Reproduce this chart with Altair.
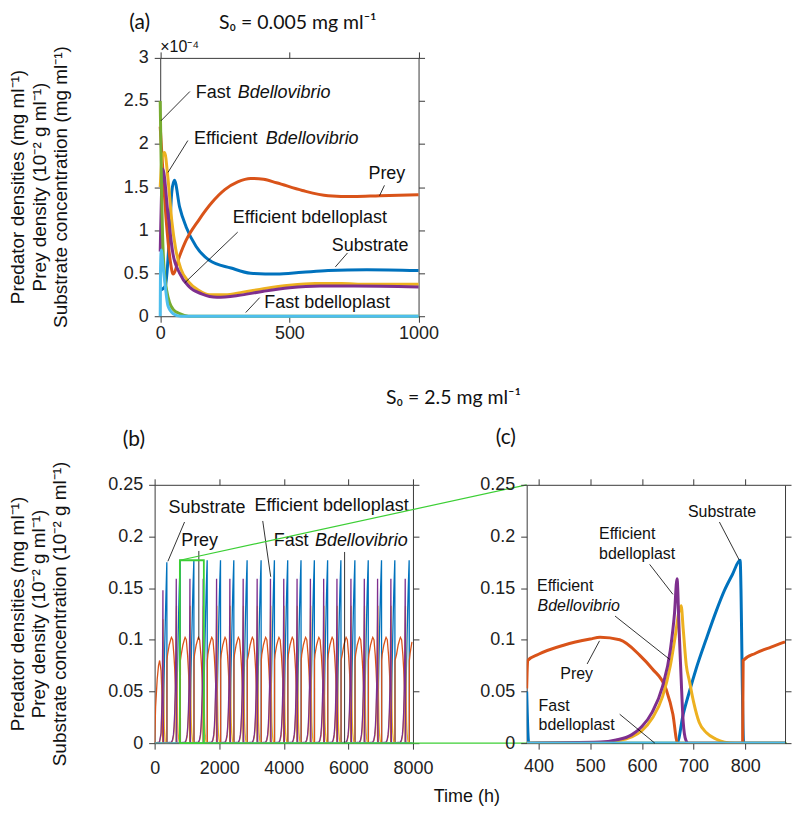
import altair as alt
import pandas as pd

# ---------------- layout ----------------
W = 259
H = 259
GAP = 114      # gap between plot areas of (b) and (c)
VGAP = 169     # gap between plot area of (a) and those of (b), (c)
SHIFT_A = 5.6  # panel (a) sits a little right of panel (b)
FONT = "Liberation Sans"
HFONT = "Lato"

BLUE, ORANGE, YELLOW, PURPLE, GREEN, CYAN = "#0072BD", "#D95319", "#EDB120", "#7E2F8E", "#77AC30", "#4DBEEE"
ZOOMC = "#3CCF35"
AXC = "#3a3a3a"

series_names = ["Substrate", "Prey", "Efficient Bdellovibrio", "Efficient bdelloplast",
                "Fast Bdellovibrio", "Fast bdelloplast"]
series_colors = [BLUE, ORANGE, YELLOW, PURPLE, GREEN, CYAN]

# ---------------- panel (a): S0 = 0.005 mg/ml, values x 1e-4 ----------------
a_sub_t = [0, 20, 35, 45, 55, 75, 100, 139, 190, 274, 350, 450, 550, 650, 800, 1000]
a_sub_v = [0.3, 0.35, 0.9, 1.45, 1.58, 1.27, 1.04, 0.81, 0.65, 0.56, 0.5, 0.49, 0.51, 0.53, 0.54, 0.53]
a_prey_t = [0, 10, 25, 40, 50, 75, 100, 150, 200, 250, 300, 350, 400, 450, 550, 650, 750, 850, 1000]
a_prey_v = [2.2, 1.7, 1.05, 0.62, 0.49, 0.7, 0.88, 1.12, 1.32, 1.47, 1.56, 1.6, 1.59, 1.55, 1.46, 1.4, 1.39, 1.4, 1.41]
a_eb_t = [0, 8, 17, 30, 45, 60, 80, 110, 150, 190, 250, 320, 400, 500, 600, 700, 800, 1000]
a_eb_v = [1.5, 1.85, 1.9, 1.6, 1.1, 0.78, 0.55, 0.4, 0.3, 0.25, 0.25, 0.28, 0.32, 0.36, 0.38, 0.38, 0.37, 0.37]
a_ebp_t = [0, 10, 30, 49, 75, 113, 160, 220, 300, 400, 500, 620, 750, 1000]
a_ebp_v = [0.75, 1.71, 1.19, 0.73, 0.5, 0.34, 0.26, 0.22, 0.24, 0.29, 0.33, 0.35, 0.35, 0.34]
a_fb_t = [0, 3, 6, 9, 13, 18, 25, 36, 50, 75, 110, 1000]
a_fb_v = [2.5, 1.9, 1.35, 0.95, 0.65, 0.45, 0.3, 0.16, 0.08, 0.03, 0.0, 0.0]
a_fbp_t = [0, 1, 4, 10, 17, 30, 50, 80, 1000]
a_fbp_v = [0.0, 0.5, 0.77, 0.6, 0.42, 0.12, 0.03, 0.0, 0.0]

a_x_ticks = [0, 500, 1000]
a_y_ticks = [0, 0.5, 1, 1.5, 2, 2.5, 3]

a_lab_text = ["Fast", "Efficient", "Prey", "Efficient bdelloplast", "Substrate", "Fast bdelloplast"]
a_lab_t = [138, 131, 806, 281, 664, 403]
a_lab_v = [2.59, 2.06, 1.65, 1.135, 0.81, 0.155]
a_ital_text = ["Bdellovibrio", "Bdellovibrio"]
a_ital_t = [300, 409]
a_ital_v = [2.59, 2.06]
a_lead_t = [115, 107, 868, 300, 725, 385]
a_lead_v = [2.61, 2.04, 1.52, 0.977, 0.735, 0.216]
a_lead_t2 = [3, 30, 849, 95, 678, 331]
a_lead_v2 = [2.27, 1.67, 1.40, 0.388, 0.573, 0.043]

# ---------------- panel (c): one cycle, S0 = 2.5 mg/ml ----------------
c_sub_t = [377, 381, 668, 680, 692, 705, 724, 744, 760, 775, 790, 797, 877]
c_sub_v = [0.05, 0.0, 0.0, 0.028, 0.05, 0.072, 0.1, 0.128, 0.148, 0.163, 0.177, 0.0, 0.0]
c_prey_t = [377, 379, 400, 450, 500, 519, 557, 596, 620, 647, 660, 669, 795, 796, 820, 850, 877]
c_prey_v = [0.053, 0.08, 0.086, 0.095, 0.1007, 0.1024, 0.1, 0.085, 0.072, 0.052, 0.028, 0.0, 0.0, 0.08, 0.087, 0.093, 0.098]
c_eb_t = [377, 520, 550, 580, 600, 620, 640, 655, 665, 672, 676, 680, 686, 692, 700, 711, 725, 743, 760, 780, 877]
c_eb_v = [0.0, 0.0005, 0.002, 0.006, 0.012, 0.024, 0.045, 0.075, 0.105, 0.128, 0.133, 0.11, 0.075, 0.06, 0.04, 0.02, 0.01, 0.004, 0.001, 0.0, 0.0]
c_ebp_t = [377, 520, 550, 580, 600, 620, 640, 655, 663, 668, 672, 676, 680, 685, 690, 877]
c_ebp_v = [0.0, 0.001, 0.003, 0.008, 0.016, 0.03, 0.055, 0.09, 0.125, 0.159, 0.11, 0.062, 0.02, 0.003, 0.0, 0.0]
c_fb_t = [377, 877]
c_fb_v = [0.0, 0.0]
c_fbp_t = [377, 877]
c_fbp_v = [0.0, 0.0]
c_peak_t = 790

c_x_ticks = [400, 500, 600, 700, 800]
bc_y_ticks = [0, 0.05, 0.1, 0.15, 0.2, 0.25]

c_lab_text = ["Substrate", "Efficient", "bdelloplast", "Efficient", "Prey", "Fast", "bdelloplast"]
c_lab_t = [689, 517, 517, 397, 442, 400, 400]
c_lab_v = [0.2235, 0.2025, 0.183, 0.152, 0.067, 0.036, 0.0174]
c_ital_text = ["Bdellovibrio"]
c_ital_t = [398]
c_ital_v = [0.133]
c_lead_t = [750, 615, 548, 494, 557]
c_lead_v = [0.214, 0.173, 0.123, 0.0766, 0.028]
c_lead_t2 = [788.6, 660, 654, 518, 625]
c_lead_v2 = [0.177, 0.144, 0.081, 0.099, 0.0]

# ---------------- panel (b): long run ----------------
b_spike_t = [380, 792, 1215, 1627, 2040, 2452, 2864, 3297, 3709, 4121, 4533, 4946,
             5357, 5768, 6201, 6615, 7026, 7438, 7882]
b0_sub_t = [0, 258, 280, 310, 340, 365, 378, 385]
b0_sub_v = [0.0, 0.0, 0.04, 0.09, 0.13, 0.16, 0.175, 0.0]
b0_prey_t = [0, 30, 80, 120, 155, 200, 235, 255, 380, 383]
b0_prey_v = [0.0, 0.035, 0.062, 0.075, 0.08, 0.07, 0.04, 0.0, 0.0, 0.08]
b0_eb_t = [0, 150, 200, 235, 255, 262, 275, 300, 330]
b0_eb_v = [0.0, 0.001, 0.008, 0.04, 0.1, 0.12, 0.06, 0.015, 0.0]
b0_ebp_t = [0, 150, 200, 235, 250, 257, 263, 275]
b0_ebp_v = [0.0, 0.001, 0.01, 0.05, 0.1, 0.148, 0.05, 0.0]
b_fb_t = [0, 8000]
b_fb_v = [0.0, 0.0]
b_fbp_t = [0, 8000]
b_fbp_v = [0.0, 0.0]

b_x_ticks = [0, 2000, 4000, 6000, 8000]

b_lab_text = ["Substrate", "Prey", "Efficient bdelloplast", "Fast"]
b_lab_t = [433, 822, 3091, 3688]
b_lab_v = [0.228, 0.196, 0.229, 0.196]
b_ital_text = ["Bdellovibrio"]
b_ital_t = [4965]
b_ital_v = [0.196]
b_lead_t = [927, 1369, 3348, 5883]
b_lead_v = [0.214, 0.186, 0.215, 0.185]
b_lead_t2 = [411, 1369, 3595, 5883]
b_lead_v2 = [0.176, 0.1, 0.161, 0.0]

zoom_box_t = [782, 1524]
zoom_box_v = [0.0, 0.177]

ytitle_a = ["Predator densities (mg ml\u207b\u00b9)", "Prey density (10\u207b\u00b2 g ml\u207b\u00b9)",
            "Substrate concentration (mg ml\u207b\u00b9)"]
ytitle_b = ["Predator densities (mg ml\u207b\u00b9)", "Prey density (10\u207b\u00b2 g ml\u207b\u00b9)",
            "Substrate concentration (10\u207b\u00b2 g ml\u207b\u00b9)"]


def tile_cycle(init_t, init_v, ct, cv):
    """panel (b) series: initial transient + the cycle read in panel (c), placed at each spike read in (b)"""
    t, v = list(init_t), list(init_v)
    for k in range(1, len(b_spike_t)):
        s = b_spike_t[k] - c_peak_t
        for tt, vv in zip(ct, cv):
            if 381 <= tt <= 797:
                t.append(tt + s)
                v.append(vv)
    s = b_spike_t[-1] - c_peak_t
    for tt, vv in zip(ct, cv):
        if tt > 797:
            t.append(tt + s)
            v.append(vv)
    return t, v


a_series = [(a_sub_t, a_sub_v), (a_prey_t, a_prey_v), (a_eb_t, a_eb_v), (a_ebp_t, a_ebp_v),
            (a_fb_t, a_fb_v), (a_fbp_t, a_fbp_v)]
c_series = [(c_sub_t, c_sub_v), (c_prey_t, c_prey_v), (c_eb_t, c_eb_v), (c_ebp_t, c_ebp_v),
            (c_fb_t, c_fb_v), (c_fbp_t, c_fbp_v)]
b_series = [tile_cycle(b0_sub_t, b0_sub_v, c_sub_t, c_sub_v),
            tile_cycle(b0_prey_t, b0_prey_v, c_prey_t, c_prey_v),
            tile_cycle(b0_eb_t, b0_eb_v, c_eb_t, c_eb_v),
            tile_cycle(b0_ebp_t, b0_ebp_v, c_ebp_t, c_ebp_v),
            (b_fb_t, b_fb_v), (b_fbp_t, b_fbp_v)]


def ptext(label, px, py, size, font=FONT, style="normal", align="left", angle=0, baseline="middle"):
    return alt.Chart(pd.DataFrame({"label": [label]})).mark_text(
        align=align, baseline=baseline, font=font, fontSize=size, fontStyle=style,
        angle=angle, color="#111111").encode(x=alt.value(px), y=alt.value(py), text="label:N")


def make_panel(series, xdom, ydom, xticks, yticks, lw, interp, xlabpad,
               labs, itals, leads, fs, extra=(), shift=0.0):
    xs = alt.Scale(domain=xdom, nice=False, zero=False, range=[shift, W + shift])
    ys = alt.Scale(domain=ydom, nice=False, zero=False)
    common = dict(grid=False, title=None, tickSize=6, domainColor=AXC, tickColor=AXC,
                  labelFont=FONT, labelFontSize=18, labelColor="#222222",
                  labelExpr="'' + datum.value")
    xax = alt.Axis(values=xticks, labelPadding=xlabpad, labelFlush=False, **common)
    yax = alt.Axis(values=yticks, labelPadding=6, offset=-shift, **common)
    xax_top = alt.Axis(values=xticks, orient="top", labels=False, **common)
    yax_right = alt.Axis(values=yticks, orient="right", labels=False, offset=shift, **common)

    def X(f):
        return alt.X(f, type="quantitative", scale=xs, axis=xax)

    def Y(f):
        return alt.Y(f, type="quantitative", scale=ys, axis=yax)

    layers = []
    for (t, v), color in zip(series, series_colors):
        df = pd.DataFrame({"t": t, "v": v}).sort_values("t")
        layers.append(alt.Chart(df).mark_line(color=color, strokeWidth=lw, interpolate=interp,
                                              clip=(shift == 0)).encode(x=X("t"), y=Y("v")))
    lt, lv, lt2, lv2 = leads
    layers.append(alt.Chart(pd.DataFrame({"t": lt, "v": lv, "t2": lt2, "v2": lv2})).mark_rule(
        color="#000000", strokeWidth=0.8).encode(x=X("t"), y=Y("v"), x2="t2:Q", y2="v2:Q"))
    for (txt, tt, vv), style in ((labs, "normal"), (itals, "italic")):
        layers.append(alt.Chart(pd.DataFrame({"label": txt, "t": tt, "v": vv})).mark_text(
            align="left", baseline="middle", font=FONT, fontSize=fs, fontStyle=style,
            color="#111111").encode(x=X("t"), y=Y("v"), text="label:N"))
    for e in extra:
        layers.append(e(X, Y))
    frame = alt.Chart(pd.DataFrame({"t": series[0][0], "v": series[0][1]})).mark_point(
        opacity=0).encode(x=alt.X("t:Q", scale=xs, axis=xax_top),
                          y=alt.Y("v:Q", scale=ys, axis=yax_right))
    return alt.layer(alt.layer(*layers), frame).resolve_axis(
        x="independent", y="independent").properties(width=W, height=H)


def a_extras(X, Y):
    s = SHIFT_A
    return alt.layer(
        ptext("\u00d710\u207b\u2074", s, -11, 16),
        ptext("(a)", s - 31, -35, 21, font=HFONT),
        ptext("S\u2080 = 0.005 mg ml\u207b\u00b9", s + 59, -35, 19.5, font=HFONT),
        ptext(ytitle_a[0], s - 137, H / 2, 19, align="center", angle=270, baseline="alphabetic"),
        ptext(ytitle_a[1], s - 115, H / 2, 19, align="center", angle=270, baseline="alphabetic"),
        ptext(ytitle_a[2], s - 93, H / 2, 19, align="center", angle=270, baseline="alphabetic"),
    )


def b_extras(X, Y):
    box = alt.Chart(pd.DataFrame({"t": [zoom_box_t[0]], "t2": [zoom_box_t[1]],
                                  "v": [zoom_box_v[0]], "v2": [zoom_box_v[1]]})).mark_rect(
        fill=None, stroke=ZOOMC, strokeWidth=1.8).encode(x=X("t"), x2="t2:Q", y=Y("v"), y2="v2:Q")
    top_line = alt.Chart(pd.DataFrame({"t": [zoom_box_t[0]], "v": [zoom_box_v[1]]})).mark_rule(
        color=ZOOMC, strokeWidth=1.2).encode(x=X("t"), y=Y("v"), x2=alt.value(W + GAP), y2=alt.value(0))
    bot_line = alt.Chart(pd.DataFrame({"t": [zoom_box_t[1]], "v": [zoom_box_v[0]]})).mark_rule(
        color=ZOOMC, strokeWidth=1.2).encode(x=X("t"), y=Y("v"), x2=alt.value(W + GAP + W + 2), y2=alt.value(H))
    return alt.layer(
        box, top_line, bot_line,
        ptext("(b)", -32, -45, 21, font=HFONT),
        ptext("S\u2080 = 2.5 mg ml\u207b\u00b9", 232, -87, 19.5, font=HFONT),
        ptext("Time (h)", 313, 313, 18, align="center"),
        ptext(ytitle_b[0], -131, H / 2, 19, align="center", angle=270, baseline="alphabetic"),
        ptext(ytitle_b[1], -110, H / 2, 19, align="center", angle=270, baseline="alphabetic"),
        ptext(ytitle_b[2], -89, H / 2, 19, align="center", angle=270, baseline="alphabetic"),
    )


def c_extras(X, Y):
    return ptext("(c)", -31, -47, 21, font=HFONT)


panel_a = make_panel(a_series, [0, 1000], [0, 3], a_x_ticks, a_y_ticks, 3, "monotone", 2,
                     (a_lab_text, a_lab_t, a_lab_v), (a_ital_text, a_ital_t, a_ital_v),
                     (a_lead_t, a_lead_v, a_lead_t2, a_lead_v2), 18, extra=(a_extras,), shift=SHIFT_A)
panel_b = make_panel(b_series, [0, 8000], [0, 0.25], b_x_ticks, bc_y_ticks, 1.3, "linear", 10,
                     (b_lab_text, b_lab_t, b_lab_v), (b_ital_text, b_ital_t, b_ital_v),
                     (b_lead_t, b_lead_v, b_lead_t2, b_lead_v2), 18, extra=(b_extras,))
panel_c = make_panel(c_series, [377, 877], [0, 0.25], c_x_ticks, bc_y_ticks, 3, "monotone", 8,
                     (c_lab_text, c_lab_t, c_lab_v), (c_ital_text, c_ital_t, c_ital_v),
                     (c_lead_t, c_lead_v, c_lead_t2, c_lead_v2), 16, extra=(c_extras,))

blank = alt.Chart(pd.DataFrame({"label": [""]})).mark_text().encode(
    x=alt.value(0), y=alt.value(0), text="label:N").properties(width=W, height=H)

chart = alt.concat(panel_a, blank, panel_b, panel_c, columns=2,
                   spacing={"row": VGAP, "column": GAP}, bounds="flush",
                   padding={"left": 0, "top": 3, "right": 0, "bottom": 0},
                   autosize=alt.AutoSizeParams(type="pad")).configure_view(
    strokeWidth=0, stroke="transparent")

chart.save("out.html", embed_options={"renderer": "svg", "actions": False})
